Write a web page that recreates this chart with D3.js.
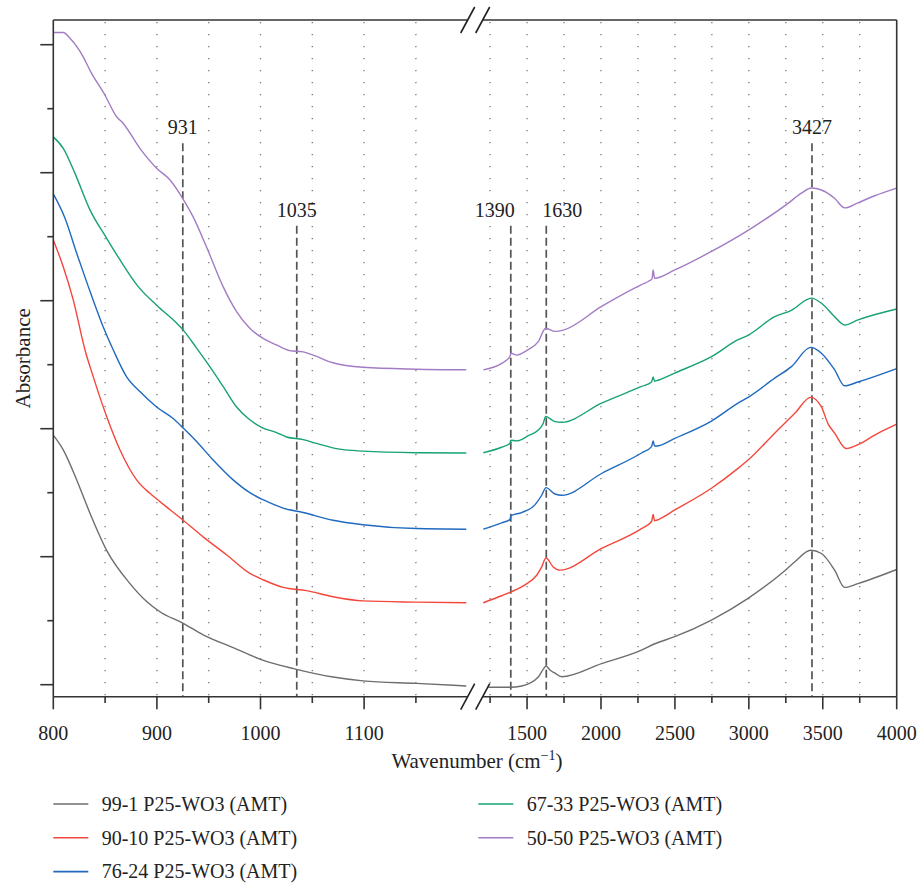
<!DOCTYPE html>
<html><head><meta charset="utf-8">
<script src="https://cdn.jsdelivr.net/npm/d3@7"></script>
<style>
html,body{margin:0;padding:0;background:#fff;}
svg text{font-family:"Liberation Serif","Times New Roman",serif;fill:#222;}
</style></head>
<body><svg id="chart" width="921" height="883"></svg>
<script>
// ---------- data ----------
const seriesNames = ["99-1 P25-WO3 (AMT)","90-10 P25-WO3 (AMT)","76-24 P25-WO3 (AMT)","67-33 P25-WO3 (AMT)","50-50 P25-WO3 (AMT)"];
const seriesColors = ["#6e6e6e","#f4473c","#1f6abf","#16a370","#a27cc4"];

const s99_1 = [[800,39.0],[809.6,36.7],[822.6,32.0],[835.4,26.8],[851.5,21.0],[874,15.8],[890.1,13.0],[902.9,11.4],[925.4,9.6],[944.6,7.8],[973.6,5.8],[999.3,4.0],[1034.7,2.4],[1070,1.2],[1098.9,0.6],[1150.4,0.2],[1198.6,-0.2],
 [1238,-0.4],[1384,-0.4],[1464,-0.2],[1576,1.2],[1609,2.4],[1628,2.9],[1655,2.3],[1689,1.8],[1734,1.25],[2004,3.3],[2274,5.4],[2364,6.4],[2499,7.5],[2747,10.1],[2995,13.5],[3243,17.8],[3311,19.2],[3418,21.0],[3491,20.5],[3580,17.9],[3648,15.2],[3738,15.8],[4000,18.0]];
const s90_10 = [[800,69.5],[809.6,65.3],[819.3,60.1],[830.6,52.3],[838.6,48.1],[851.5,41.9],[864.3,36.7],[880.4,32.0],[893.2,29.9],[902.9,28.6],[925.4,25.7],[944.6,23.1],[967.2,20.3],[989.7,17.4],[1002.5,16.4],[1021.8,15.2],[1044.4,14.7],[1070,13.75],[1098.9,13.1],[1150.4,12.9],[1198.6,12.8],
 [1204,12.8],[1328,13.9],[1391,14.5],[1486,15.6],[1565,17.1],[1599,18.4],[1628,19.8],[1677,18.4],[1722,17.9],[2004,21.3],[2274,24.4],[2342,25.5],[2353,26.6],[2362,25.6],[2376,25.7],[2499,27.3],[2747,30.7],[2927,33.8],[2995,35.1],[3175,39.3],[3311,42.4],[3418,44.9],[3491,43.4],[3535,40.8],[3580,39.3],[3659,36.9],[3738,37.5],[3851,39.0],[4000,40.7]];
const s76_24 = [[800,76.7],[811.3,72.9],[822.6,67.4],[833.8,62.2],[848.2,55.9],[857.9,52.3],[870.8,48.1],[883.6,45.8],[899.7,43.4],[915.7,41.6],[925.4,40.1],[938.3,38.0],[954.3,35.1],[973.6,32.0],[989.7,30.0],[1002.5,28.9],[1021.8,27.6],[1041.1,26.9],[1070,25.7],[1098.9,25.0],[1150.4,24.4],[1198.6,24.3],
 [1204,24.3],[1328,25.3],[1384,25.8],[1391,26.4],[1464,26.9],[1553,28.1],[1599,29.6],[1628,30.8],[1689,29.8],[1734,29.6],[2004,33.0],[2274,36.2],[2342,37.2],[2353,38.1],[2362,37.3],[2376,37.3],[2499,38.5],[2747,41.2],[2927,44.0],[2995,44.9],[3175,47.9],[3288,49.7],[3418,52.7],[3491,51.8],[3580,49.2],[3648,46.7],[3738,47.3],[4000,49.4]];
const s67_33 = [[800,85.6],[809.6,83.8],[820.9,79.9],[835.4,74.2],[851.5,69.75],[864.3,66.4],[882,62.2],[899.7,59.3],[919,56.5],[925.4,55.4],[938.3,52.6],[951.1,49.7],[963.9,46.6],[976.9,43.4],[989.7,41.4],[1002.5,40.1],[1015.4,39.4],[1025.1,38.7],[1041.1,38.3],[1054,37.7],[1076.5,36.8],[1098.9,36.5],[1150.4,36.25],[1198.6,36.2],
 [1204,36.25],[1328,37.1],[1384,37.7],[1391,38.2],[1430,38.1],[1508,38.9],[1576,39.8],[1609,40.8],[1626,41.9],[1689,41.1],[1734,41.0],[2004,44.0],[2274,46.6],[2342,47.3],[2353,48.1],[2362,47.4],[2376,47.5],[2499,48.7],[2747,51.25],[2927,53.9],[2995,54.6],[3175,57.5],[3288,58.5],[3423,60.4],[3491,59.6],[3580,57.5],[3648,56.2],[3738,57.0],[4000,58.7]];
const s50_50 = [[800,101.9],[809.6,101.9],[816.1,101.0],[828.9,98.1],[835.4,96.0],[849.9,92.1],[861.1,88.75],[867.5,87.7],[883.6,83.8],[899.7,80.7],[912.5,78.9],[924.8,76.0],[935,73.1],[947.9,68.4],[963.9,62.2],[976.9,58.3],[989.7,55.7],[1002.5,54.1],[1015.4,53.1],[1028.3,52.2],[1041.1,52.0],[1050.7,51.5],[1070,50.3],[1098.9,49.6],[1150.4,49.3],[1198.6,49.2],
 [1204,49.2],[1328,50.2],[1384,51.25],[1391,51.8],[1430,51.5],[1497,52.2],[1576,53.6],[1626,55.7],[1689,55.2],[1745,55.4],[2004,59.1],[2274,62.5],[2319,63.0],[2345,63.4],[2353,64.8],[2362,63.5],[2499,64.8],[2747,67.7],[2995,71.0],[3265,75.2],[3355,76.8],[3423,77.6],[3491,77.3],[3580,76.0],[3648,74.5],[3738,75.3],[3851,76.4],[4000,77.6]];
const seriesData = [s99_1, s90_10, s76_24, s67_33, s50_50];

const peakLabels = ["931","1035","1390","1630","3427"];
const peakPositions = [925, 1035, 1390, 1630, 3427];
const peakTops = [84.6, 71.7, 71.7, 71.7, 84.6];
const peakAnchors = ["middle","middle","end","start","middle"];

const leftTicksMajor = [800, 900, 1000, 1100];
const leftTicksMinor = [850, 950, 1050, 1150];
const rightTicksMajor = [1500, 2000, 2500, 3000, 3500, 4000];
const rightTicksMinor = [1250, 1750, 2250, 2750, 3250, 3750];
const yTicksMajor = [0, 20, 40, 60, 80, 100];
const yTicksMinor = [10, 30, 50, 70, 90];
const breakValue = 1200;

// ---------- layout ----------
const svg = d3.select("#chart");
const plotLeft = 53.3, plotRight = 896.7, plotTop = 20, plotBottom = 696.7;
const gapLeft = 467.7, gapRight = 482.7;
const xL = d3.scaleLinear().domain([800, breakValue]).range([plotLeft, gapLeft]);
const xR = d3.scaleLinear().domain([breakValue, 4000]).range([gapRight, plotRight]);
const y = d3.scaleLinear().domain([-1.875, 103.86]).range([plotBottom, plotTop]);
const axisColor = "#333";

// dotted gridlines
const gridX = [...leftTicksMajor.filter(v=>v!==800), ...leftTicksMinor].map(v=>xL(v))
  .concat([...rightTicksMajor.filter(v=>v!==4000), ...rightTicksMinor].map(v=>xR(v)));
svg.append("g").selectAll("line").data(gridX).join("line")
  .attr("x1", d=>d).attr("x2", d=>d).attr("y1", plotTop+2).attr("y2", plotBottom)
  .attr("stroke", "#777").attr("stroke-width", 1.3).attr("stroke-dasharray", "1.3,10.7");

// peak dashed lines
const peakX = v => v < breakValue ? xL(v) : xR(v);
const pk = svg.append("g");
peakPositions.forEach((p, i) => {
  const px = peakX(p);
  pk.append("line").attr("x1", px).attr("x2", px).attr("y1", y(peakTops[i])).attr("y2", plotBottom)
    .attr("stroke", "#555").attr("stroke-width", 1.7).attr("stroke-dasharray", "8,4");
  const off = peakAnchors[i] === "end" ? 4 : peakAnchors[i] === "start" ? -4 : 0;
  pk.append("text").attr("x", px + off).attr("y", y(peakTops[i]) - 9)
    .attr("text-anchor", peakAnchors[i]).attr("font-size", 20).text(peakLabels[i]);
});

// curves
const lineL = d3.line().x(d=>xL(d[0])).y(d=>y(d[1])).curve(d3.curveMonotoneX);
const lineR = d3.line().x(d=>xR(d[0])).y(d=>y(d[1])).curve(d3.curveMonotoneX);
const cg = svg.append("g");
seriesData.forEach((s, i) => {
  cg.append("path").attr("d", lineL(s.filter(d=>d[0] <= breakValue)))
    .attr("fill","none").attr("stroke", seriesColors[i]).attr("stroke-width", 1.4);
  cg.append("path").attr("d", lineR(s.filter(d=>d[0] > breakValue)))
    .attr("fill","none").attr("stroke", seriesColors[i]).attr("stroke-width", 1.4);
});

// axes frame
const fr = svg.append("g").attr("stroke", axisColor).attr("stroke-width", 1.6).attr("fill","none");
[plotTop, plotBottom].forEach(yy => {
  fr.append("line").attr("x1", plotLeft).attr("x2", gapLeft).attr("y1", yy).attr("y2", yy);
  fr.append("line").attr("x1", gapRight).attr("x2", plotRight).attr("y1", yy).attr("y2", yy);
  [gapLeft, gapRight].forEach(cx => {
    fr.append("line").attr("x1", cx+7).attr("y1", yy-13).attr("x2", cx-7).attr("y2", yy+13).attr("stroke", "#222");
  });
});
fr.append("line").attr("x1", plotLeft).attr("x2", plotLeft).attr("y1", plotTop).attr("y2", plotBottom);
fr.append("line").attr("x1", plotRight).attr("x2", plotRight).attr("y1", plotTop).attr("y2", plotBottom);

// y ticks
yTicksMajor.forEach(v => fr.append("line").attr("x1", plotLeft-13).attr("x2", plotLeft).attr("y1", y(v)).attr("y2", y(v)));
yTicksMinor.forEach(v => fr.append("line").attr("x1", plotLeft-6).attr("x2", plotLeft).attr("y1", y(v)).attr("y2", y(v)));

// x ticks + labels
const xt = svg.append("g");
function xTicks(scale, major, minor) {
  major.forEach(v => {
    fr.append("line").attr("x1", scale(v)).attr("x2", scale(v)).attr("y1", plotBottom).attr("y2", plotBottom+12.6);
    xt.append("text").attr("x", scale(v)).attr("y", 740).attr("text-anchor","middle").attr("font-size", 20).text(v);
  });
  minor.forEach(v => fr.append("line").attr("x1", scale(v)).attr("x2", scale(v)).attr("y1", plotBottom).attr("y2", plotBottom+6.3));
}
xTicks(xL, leftTicksMajor, leftTicksMinor);
xTicks(xR, rightTicksMajor, rightTicksMinor);

// axis titles
const xtitle = svg.append("text").attr("x", (plotLeft+plotRight)/2 + 2).attr("y", 768)
  .attr("text-anchor","middle").attr("font-size", 21);
xtitle.append("tspan").text("Wavenumber (cm");
xtitle.append("tspan").attr("font-size", 14).attr("dy", -8).text("\u22121");
xtitle.append("tspan").attr("dy", 8).text(")");

svg.append("text").attr("transform", `translate(30,${(plotTop+plotBottom)/2}) rotate(-90)`)
  .attr("text-anchor","middle").attr("font-size", 21).text("Absorbance");

// legend
const legCols = [[0,1,2],[3,4]];
const legX = [53.3, 478.3];
const legY0 = 804, legDY = 33.8;
legCols.forEach((col, ci) => {
  col.forEach((si, ri) => {
    const yy = legY0 + ri*legDY;
    svg.append("line").attr("x1", legX[ci]).attr("x2", legX[ci]+35).attr("y1", yy).attr("y2", yy)
      .attr("stroke", seriesColors[si]).attr("stroke-width", 1.6);
    svg.append("text").attr("x", legX[ci]+48.4).attr("y", yy+6.8).attr("font-size", 20).text(seriesNames[si]);
  });
});
</script></body></html>
